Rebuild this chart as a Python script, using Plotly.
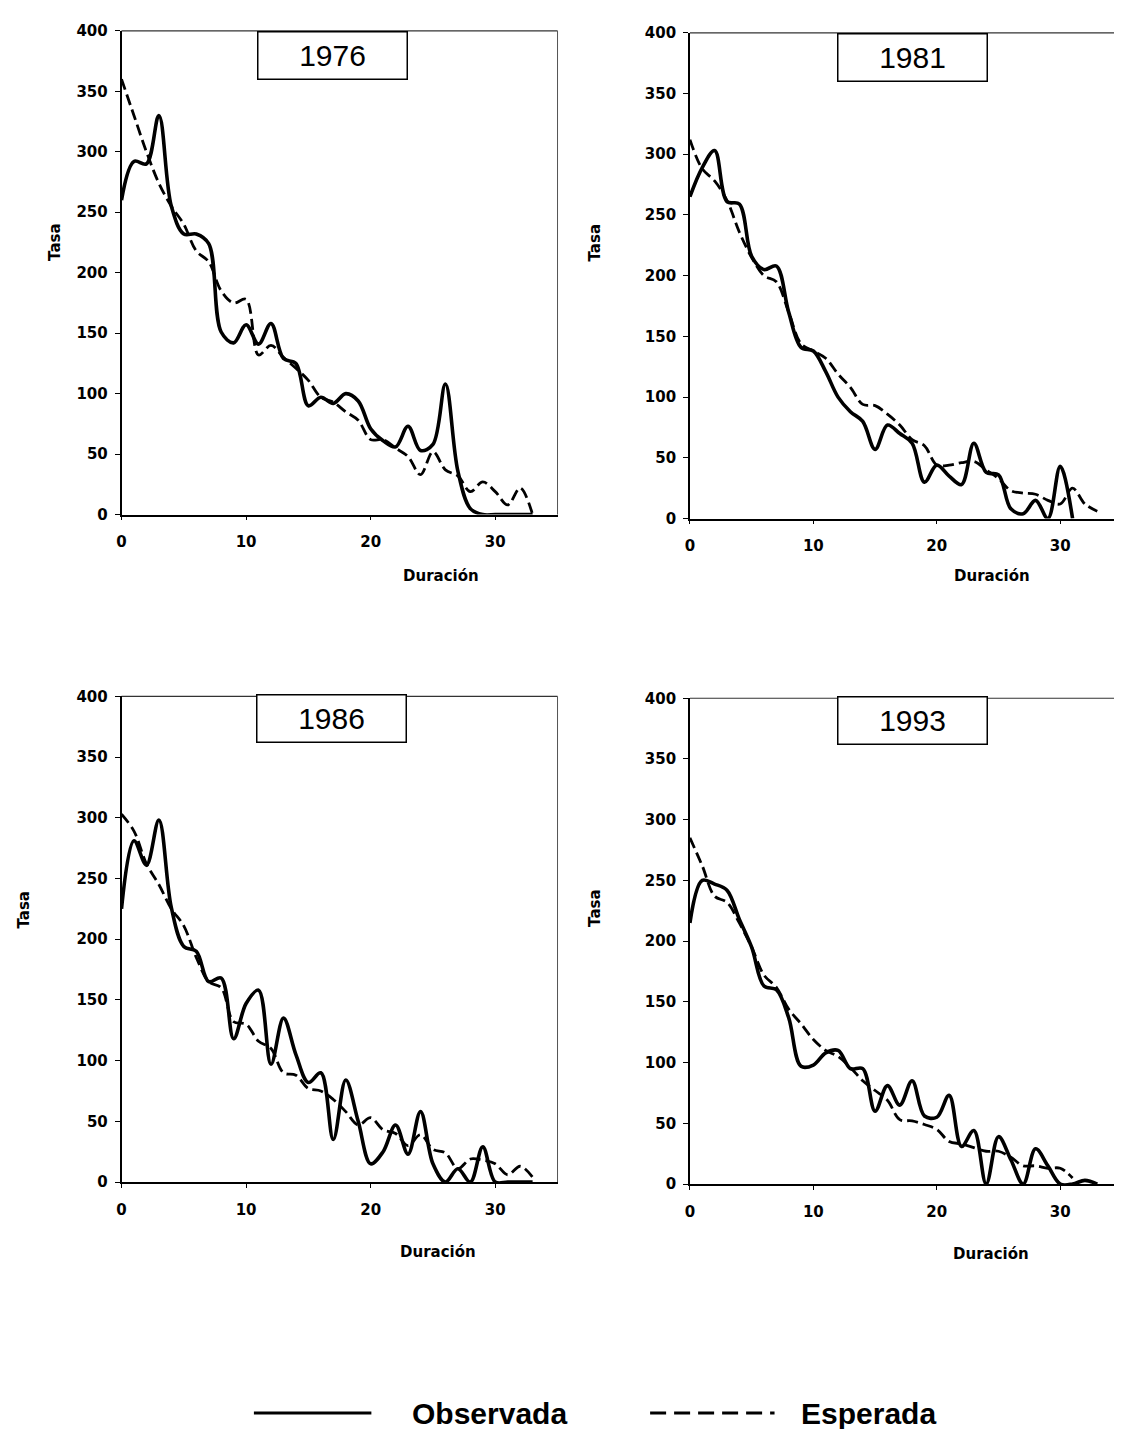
import plotly.graph_objects as go

# ---------------- data ----------------
duracion = list(range(0, 34))

years = ["1976", "1981", "1986", "1993"]

obs_1976 = [260, 292, 290, 330, 255, 232, 232, 224, 151, 142, 157, 141, 158, 129, 125, 90, 97,
            92, 100, 94, 71, 61, 56, 73, 53, 58, 108, 36, 5, 0, 0, 0, 0, 0]
exp_1976 = [360, 330, 300, 274, 255, 240, 218, 209, 185, 175, 178, 132, 140, 130, 121, 111, 97,
            93, 85, 78, 62, 62, 55, 48, 33, 52, 37, 32, 19, 27, 19, 8, 22, 0]

obs_1981 = [265, 289, 303, 261, 259, 216, 205, 208, 170, 141, 138, 121, 100, 88, 80, 57, 77,
            70, 62, 30, 44, 35, 28, 62, 38, 36, 8, 4, 15, 0, 43, 0]
exp_1981 = [312, 288, 278, 262, 236, 215, 200, 195, 170, 144, 138, 132, 119, 108, 94, 93, 86,
            77, 65, 60, 44, 44, 46, 47, 40, 33, 23, 21, 20, 15, 12, 25, 12, 6]

obs_1986 = [225, 281, 261, 298, 226, 194, 190, 165, 168, 118, 147, 158, 97, 135, 105, 82, 90,
            35, 84, 50, 15, 25, 47, 23, 58, 15, 0, 11, 0, 29, 0, 0, 0, 0]
exp_1986 = [303, 289, 262, 245, 225, 211, 185, 165, 160, 132, 130, 116, 110, 90, 88, 77, 75,
            68, 58, 47, 53, 43, 40, 30, 39, 27, 24, 11, 19, 18, 15, 6, 13, 4]

obs_1993 = [215, 250, 247, 242, 218, 195, 163, 160, 137, 97, 98, 108, 110, 95, 95, 60, 81,
            65, 85, 56, 55, 73, 31, 44, 0, 39, 20, 0, 29, 15, 0, 0, 3, 0]
exp_1993 = [285, 262, 237, 232, 215, 195, 172, 162, 144, 132, 119, 110, 105, 96, 85, 77, 69,
            53, 52, 49, 45, 35, 33, 30, 27, 27, 22, 15, 15, 13, 13, 5]

observada = [obs_1976, obs_1981, obs_1986, obs_1993]
esperada = [exp_1976, exp_1981, exp_1986, exp_1993]

y_ticks = [0, 50, 100, 150, 200, 250, 300, 350, 400]
x_ticks = [0, 10, 20, 30]
legend_labels = ["Observada", "Esperada"]
x_title = "Duración"
y_title = "Tasa"

# ---------------- layout geometry (page pixels) ----------------
PAGE_W, PAGE_H = 1122, 1437
OFF = 8                      # default body margin of the html page
W, H = PAGE_W - 2 * OFF, PAGE_H - 2 * OFF

def px(x):
    return (x - OFF) / W

def py(y):
    return 1 - (y - OFF) / H

# plot areas: (left, right, top, bottom) in page pixels; x range 0-35 spans left..right
areas = [
    (117, 555, 22, 512),
    (688, 1122, 24, 516),
    (117, 555, 696, 1188),
    (688, 1122, 698, 1190),
]
box_centers = [(329, 47), (912, 49), (328, 719), (912, 721)]
ytitle_pos = [(50, 236), (593, 237), (19, 912), (592, 911)]
xtitle_pos = [(438, 574), (991, 574), (435, 1259), (990, 1261)]

tick_font = dict(family="DejaVu Sans", size=15, color="black", weight="bold")
title_font = dict(family="DejaVu Sans", size=15, color="black", weight="bold")

fig = go.Figure()
layout = dict(
    width=W, height=H,
    margin=dict(l=0, r=0, t=0, b=0),
    paper_bgcolor="white", plot_bgcolor="white",
    showlegend=False,
)
annotations = []
shapes = []

for i in range(4):
    xa = "x" if i == 0 else f"x{i+1}"
    ya = "y" if i == 0 else f"y{i+1}"
    xkey = "xaxis" if i == 0 else f"xaxis{i+1}"
    ykey = "yaxis" if i == 0 else f"yaxis{i+1}"
    l, r, t, b = areas[i]
    # clip to the visible page width
    r_vis = min(r, PAGE_W - OFF)
    xmax = 35 * (r_vis - l) / (r - l)

    obs = observada[i]
    exp = esperada[i]
    fig.add_trace(go.Scatter(
        x=duracion[:len(exp)], y=exp, mode="lines", xaxis=xa, yaxis=ya,
        line=dict(color="black", width=2.8, dash="11px,5px", shape="spline", smoothing=1.0),
        name=legend_labels[1]))
    fig.add_trace(go.Scatter(
        x=duracion[:len(obs)], y=obs, mode="lines", xaxis=xa, yaxis=ya,
        line=dict(color="black", width=3.6, shape="spline", smoothing=1.0),
        name=legend_labels[0]))

    layout[xkey] = dict(
        domain=[px(l), px(r_vis)], anchor=ya, range=[0, xmax],
        tickvals=x_ticks, ticktext=[str(v) for v in x_ticks],
        showgrid=False, zeroline=False, showline=True, linecolor="black", linewidth=1.5,
        ticks="outside", ticklen=4, tickwidth=1, tickcolor="black",
        tickfont=tick_font, ticklabelstandoff=9,
    )
    layout[ykey] = dict(
        domain=[py(b), py(t)], anchor=xa, range=[0, 400],
        tickvals=y_ticks, ticktext=[str(v) for v in y_ticks],
        showgrid=False, zeroline=False, showline=True, linecolor="black", linewidth=1.5,
        ticks="outside", ticklen=5, tickwidth=1, tickcolor="black",
        tickfont=tick_font, ticklabelstandoff=4,
    )
    # plot-area frame: top line, and right line when visible
    shapes.append(dict(type="line", xref=f"{xa} domain", yref=f"{ya} domain",
                       x0=0, x1=1, y0=1, y1=1, line=dict(color="#333333", width=1.2),
                       layer="below"))
    if r_vis == r:
        shapes.append(dict(type="line", xref=f"{xa} domain", yref=f"{ya} domain",
                           x0=1, x1=1, y0=0, y1=1, line=dict(color="#555555", width=1),
                           layer="below"))

    bx, by = box_centers[i]
    annotations.append(dict(
        x=px(bx), y=py(by), xref="paper", yref="paper", text=years[i], showarrow=False,
        font=dict(family="Liberation Sans", size=30, color="black"),
        bgcolor="white", bordercolor="black", borderwidth=1.5, borderpad=1,
        width=146, height=44, xanchor="center", yanchor="middle"))

    tx, ty = ytitle_pos[i]
    annotations.append(dict(
        x=px(tx), y=py(ty), xref="paper", yref="paper", text=y_title, showarrow=False,
        textangle=-90, font=title_font, xanchor="center", yanchor="middle"))

    dx, dy = xtitle_pos[i]
    annotations.append(dict(
        x=px(dx), y=py(dy), xref="paper", yref="paper", text=x_title, showarrow=False,
        font=title_font, xanchor="center", yanchor="middle"))

# ---------------- legend (drawn manually) ----------------
leg_y = 1422
shapes.append(dict(type="line", xref="paper", yref="paper",
                   x0=px(250), x1=px(368), y0=py(leg_y), y1=py(leg_y),
                   line=dict(color="black", width=3)))
shapes.append(dict(type="line", xref="paper", yref="paper",
                   x0=px(648), x1=px(773), y0=py(leg_y), y1=py(leg_y),
                   line=dict(color="black", width=3, dash="16px,8px")))
annotations.append(dict(
    x=px(407), y=py(leg_y), xref="paper", yref="paper", text=legend_labels[0],
    showarrow=False, xanchor="left", yanchor="middle",
    font=dict(family="Liberation Sans", size=30, color="black", weight="bold")))
annotations.append(dict(
    x=px(798), y=py(leg_y), xref="paper", yref="paper", text=legend_labels[1],
    showarrow=False, xanchor="left", yanchor="middle",
    font=dict(family="Liberation Sans", size=30, color="black", weight="bold")))

layout["annotations"] = annotations
layout["shapes"] = shapes
fig.update_layout(**layout)

fig.write_html("out.html", config={"displayModeBar": False})
